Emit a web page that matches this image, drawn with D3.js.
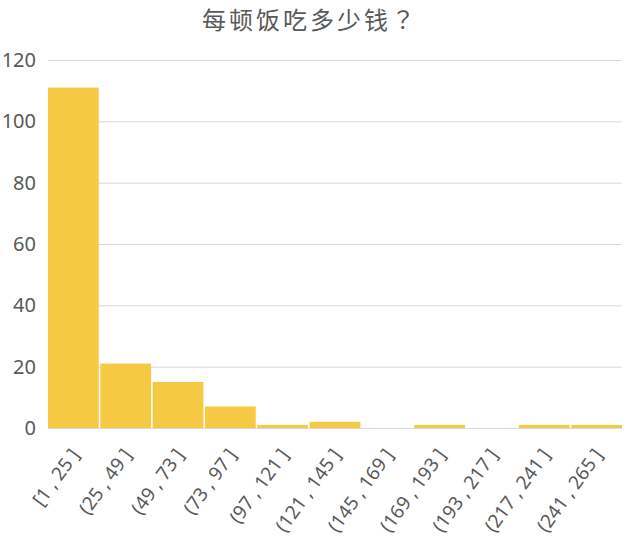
<!DOCTYPE html>
<html><head><meta charset="utf-8">
<script src="https://cdn.jsdelivr.net/npm/d3@7"></script>
<style>body{margin:0;background:#fff}</style>
</head><body>
<svg id="c" width="626" height="550"></svg>
<script>
const categories = ["[1 , 25 ]","(25 , 49 ]","(49 , 73 ]","(73 , 97 ]","(97 , 121 ]","(121 , 145 ]","(145 , 169 ]","(169 , 193 ]","(193 , 217 ]","(217 , 241 ]","(241 , 265 ]"];
const counts = [111, 21, 15, 7, 1, 2, 0, 1, 0, 1, 1];
const yTicks = [0, 20, 40, 60, 80, 100, 120];
const titleMain = "每顿饭吃多少钱";
const titleMark = "？";

const svg = d3.select("#c");
const m = {l:48, r:4, t:60, b:122};
const W = 626, H = 550;
const x = d3.scaleBand().domain(categories).range([m.l, W - m.r]).paddingInner(0.03).paddingOuter(0);
const y = d3.scaleLinear().domain([0, 120]).range([H - m.b, m.t]);
const txt = "#595959";
const font = "'Noto Sans', 'Noto Sans CJK SC', sans-serif";

const t = svg.append("text").attr("x", 310).attr("y", 29).attr("text-anchor", "middle")
  .attr("font-family", "'Noto Sans CJK SC', sans-serif").attr("font-size", 24)
  .attr("letter-spacing", 3).attr("fill", txt);
t.append("tspan").text(titleMain);
t.append("tspan").attr("font-family", "'Noto Sans CJK TC', sans-serif").text(titleMark);

const ya = svg.append("g").attr("transform", `translate(${m.l},0)`)
  .call(d3.axisLeft(y).tickValues(yTicks).tickSize(-(W - m.l - m.r)).tickPadding(12));
ya.select(".domain").remove();
ya.selectAll(".tick line").attr("stroke", "#d9d9d9").attr("stroke-width", 1);
ya.selectAll(".tick text").attr("font-family", font).attr("font-size", 20).attr("fill", txt);

svg.append("g").selectAll("rect").data(counts).join("rect")
  .attr("x", (d, i) => x(categories[i]))
  .attr("width", x.bandwidth())
  .attr("y", d => y(d))
  .attr("height", d => y(0) - y(d))
  .attr("fill", "#f5c944");

const xa = svg.append("g").attr("transform", `translate(0,${y(0)})`)
  .call(d3.axisBottom(x).tickSize(0).tickPadding(0));
xa.select(".domain").remove();
xa.selectAll(".tick text")
  .attr("font-family", font).attr("font-size", 19).attr("fill", txt)
  .attr("text-anchor", "end").attr("dy", null).attr("y", 0)
  .attr("transform", "translate(7,27) rotate(-54)");
</script>
</body></html>
